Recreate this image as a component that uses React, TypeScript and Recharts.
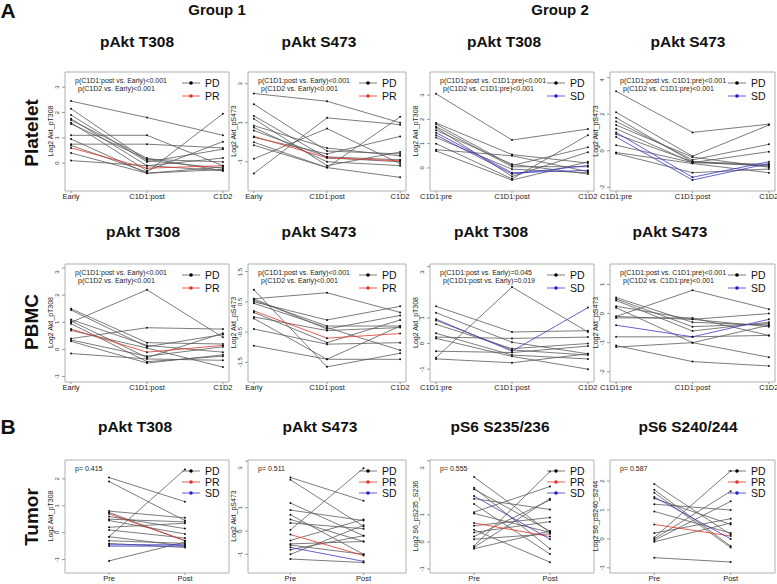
import React from 'react';
import { LineChart, Line, XAxis, YAxis, ReferenceArea } from 'recharts';

// time points
const timesG1 = ['Early', 'C1D1:post', 'C1D2'];
const timesG2 = ['C1D1:pre', 'C1D1:post', 'C1D2'];
const timesTumor = ['Pre', 'Post'];

// Platelet, group 1
const platG1T308 = [
  [2.45, 1.8, 1.1], [2.15, 0.1, -0.2], [1.9, 0.05, 0.55], [1.75, -0.1, 0.2], [1.7, 0.2, -0.3],
  [1.6, -0.3, 0.85], [1.55, 0.15, 0.05], [1.1, 1.1, -0.1], [0.95, -0.4, -0.25], [0.75, 0.75, 0.6],
  [0.7, -0.35, 1.95], [0.4, -0.4, -0.15], [0.1, -0.1, -0.3], [0.6, -0.2, -0.1],
];
const platG1T308Resp = ['PD', 'PD', 'PD', 'PD', 'PD', 'PD', 'PD', 'PD', 'PD', 'PD', 'PD', 'PD', 'PD', 'PR'];

const platG1S473 = [
  [2.5, 2.1, 1.0], [1.95, -0.45, -0.6], [1.35, -0.8, -1.0], [1.2, -1.2, -0.5], [0.85, -0.3, -0.7],
  [0.75, -1.0, -1.2], [0.6, -0.75, -0.9], [0.25, -0.6, 0.3], [0.0, -1.3, 1.3], [-0.15, -1.3, -1.8],
  [-0.85, 0.7, -1.1], [-1.6, 1.25, 0.9], [0.3, -0.8, -0.95],
];
const platG1S473Resp = ['PD', 'PD', 'PD', 'PD', 'PD', 'PD', 'PD', 'PD', 'PD', 'PD', 'PD', 'PD', 'PR'];

// Platelet, group 2
const platG2T308 = [
  [3.05, 1.15, 1.6], [1.85, 0.55, 0.2], [1.8, 0.1, 0.85], [1.7, 0.05, 0.05], [1.65, -0.35, 0.65],
  [1.55, 0.15, -0.25], [1.25, -0.05, -0.2], [1.0, -0.45, 1.35], [0.75, 0.5, -0.15], [0.7, -0.5, 0.25],
  [1.45, -0.2, -0.1], [1.35, -0.25, 0.1],
];
const platG2T308Resp = ['PD', 'PD', 'PD', 'PD', 'PD', 'PD', 'PD', 'PD', 'PD', 'PD', 'SD', 'SD'];

const platG2S473 = [
  [3.25, 1.0, 1.45], [2.1, -0.3, 1.4], [1.8, -0.6, -0.75], [1.6, -0.5, 0.35], [1.4, -0.35, -0.9],
  [1.2, -0.65, -0.05], [0.9, -0.6, -0.85], [0.3, -0.65, -0.8], [-0.1, -0.7, -1.2], [-0.15, -1.2, -1.0],
  [1.0, -1.45, -0.6], [0.75, -1.6, -0.7],
];
const platG2S473Resp = ['PD', 'PD', 'PD', 'PD', 'PD', 'PD', 'PD', 'PD', 'PD', 'PD', 'SD', 'SD'];

// PBMC, group 1
const pbmcG1T308 = [
  [1.5, 0.25, 0.2], [1.45, 0.1, 0.55], [1.1, 0.15, -0.1], [1.05, -0.3, 0.6], [1.0, 2.2, 0.45],
  [0.95, -0.45, -0.25], [0.7, 0.05, -0.65], [0.4, 0.8, 0.75], [0.35, -0.25, 0.1], [0.3, -0.5, -0.2],
  [-0.15, -0.35, -0.4], [0.75, -0.1, 0.15],
];
const pbmcG1T308Resp = ['PD', 'PD', 'PD', 'PD', 'PD', 'PD', 'PD', 'PD', 'PD', 'PD', 'PD', 'PR'];

const pbmcG1S473 = [
  [0.9, -1.65, -1.2], [0.6, 0.8, 0.15], [0.55, -0.3, -0.3], [0.5, -0.1, 0.35], [0.45, -0.35, -1.1],
  [0.6, -0.4, 0.05], [0.15, -0.85, -0.1], [0.0, -0.45, -0.35], [-0.05, -1.4, -1.4], [-0.4, -0.9, -0.85],
  [-0.95, -1.4, -0.3], [0.2, -0.7, -0.55],
];
const pbmcG1S473Resp = ['PD', 'PD', 'PD', 'PD', 'PD', 'PD', 'PD', 'PD', 'PD', 'PD', 'PD', 'PR'];

// PBMC, group 2
const pbmcG2T308 = [
  [1.45, 0.45, 0.5], [1.2, 0.05, -0.4], [0.9, -0.25, -0.45], [0.75, -0.2, 0.0], [0.4, -0.45, -0.6],
  [0.25, 0.2, 0.25], [0.2, -0.5, -1.0], [-0.3, -0.35, -0.1], [-0.55, 2.2, 0.45], [-0.6, -0.75, -0.4],
  [0.95, -0.3, 1.4],
];
const pbmcG2T308Resp = ['PD', 'PD', 'PD', 'PD', 'PD', 'PD', 'PD', 'PD', 'PD', 'PD', 'SD'];

const pbmcG2S473 = [
  [0.55, -0.3, -0.4], [0.5, -0.45, -0.35], [0.45, -0.6, -0.3], [0.25, -0.2, 0.0], [0.2, -1.0, -1.5],
  [-0.1, 0.8, 0.15], [-0.1, -0.2, -0.45], [-0.15, -0.15, -0.75], [-0.8, -0.8, -0.75], [-1.1, -1.65, -1.8],
  [-1.15, -1.0, -0.4], [-0.4, -0.8, -0.2],
];
const pbmcG2S473Resp = ['PD', 'PD', 'PD', 'PD', 'PD', 'PD', 'PD', 'PD', 'PD', 'PD', 'PD', 'SD'];

// Tumor
const tumorT308 = [
  [2.05, 1.15], [1.9, 0.45], [0.8, 0.55], [0.75, -0.3], [0.6, 0.15], [0.5, 0.4], [0.45, -0.05],
  [0.2, 0.35], [0.1, -0.2], [-0.15, 2.35], [-0.15, -0.5], [-0.3, -0.4], [-0.4, -0.55], [-1.05, -0.35],
  [0.7, -0.3], [-0.45, -0.45], [-0.5, -0.5],
];
const tumorT308Resp = ['PD', 'PD', 'PD', 'PD', 'PD', 'PD', 'PD', 'PD', 'PD', 'PD', 'PD', 'PD', 'PD', 'PD', 'PR', 'SD', 'SD'];

const tumorS473 = [
  [2.3, 1.3], [2.2, 0.2], [1.2, -0.2], [0.9, 0.45], [0.7, -1.0], [0.5, -0.45], [0.35, 0.1], [0.05, 2.7],
  [-0.4, 0.5], [-0.55, -0.45], [-0.6, -1.0], [-0.8, -0.2], [-1.0, 0.25], [-1.2, -1.35],
  [-0.15, -1.05], [-0.7, -1.3],
];
const tumorS473Resp = ['PD', 'PD', 'PD', 'PD', 'PD', 'PD', 'PD', 'PD', 'PD', 'PD', 'PD', 'PD', 'PD', 'PD', 'PR', 'SD'];

const tumorS235 = [
  [2.4, 0.35], [2.0, -0.25], [1.95, 0.4], [1.6, 1.2], [1.4, -0.45], [1.1, 2.05], [1.05, 0.35],
  [0.6, 0.9], [0.45, -0.75], [0.35, 0.75], [0.2, 1.55], [0.1, 0.3], [-0.15, 2.6], [-0.2, 1.6],
  [-0.25, 0.4], [0.7, 0.2], [1.7, 0.1],
];
const tumorS235Resp = ['PD', 'PD', 'PD', 'PD', 'PD', 'PD', 'PD', 'PD', 'PD', 'PD', 'PD', 'PD', 'PD', 'PD', 'PD', 'PR', 'SD'];

const tumorS240 = [
  [1.9, 0.15], [1.7, -0.25], [1.6, -0.3], [1.4, 0.5], [1.2, 1.0], [0.95, 0.2], [0.2, 0.7],
  [0.05, 2.35], [0.0, 1.65], [-0.05, 1.3], [-0.1, 0.55], [-0.65, -0.8], [0.5, 0.1], [1.45, 0.0],
];
const tumorS240Resp = ['PD', 'PD', 'PD', 'PD', 'PD', 'PD', 'PD', 'PD', 'PD', 'PD', 'PD', 'PD', 'PR', 'SD'];

const FONT = '"Liberation Sans", Arial, Helvetica, sans-serif';
const RESP_COLOR: Record<string, string> = { PD: '#5a5a5a', PR: '#e2332b', SD: '#3b38c4' };
const LEGEND_COLOR: Record<string, string> = { PD: '#000000', PR: '#e2332b', SD: '#2420c0' };
const YW = 24;
const XH = 14;
const RM = 14; // room on the right for the last x label

const YTick = (props: any) => {
  const { x, y, payload, digits } = props;
  const txt = digits ? Number(payload.value).toFixed(digits) : String(payload.value);
  return (
    <text x={x - 1} y={y} transform={`rotate(-90 ${x - 1} ${y})`} textAnchor="middle"
      fontSize={6} fill="#333" fontFamily={FONT}>{txt}</text>
  );
};

type PanelProps = {
  left: number; top: number; w: number; h: number;
  times: string[]; lines: number[][]; resp: string[];
  yDomain: [number, number]; yTicks: number[]; xDomain: [number, number];
  yLabel: string; pText: string[]; legend: string[]; digits?: number;
  legendRight?: number;
};

const Panel = ({ left, top, w, h, times, lines, resp, yDomain, yTicks, xDomain, yLabel, pText, legend, digits, legendRight = 24 }: PanelProps) => {
  const data = times.map((t, i) => {
    const row: Record<string, number | string> = { x: i + 1, t };
    lines.forEach((l, k) => { row['s' + k] = l[i]; });
    return row;
  });
  const legendGap = legend.length === 3 ? 11 : 13;
  const cw = w + YW + RM;
  const ch = h + XH + 2;
  const lx = YW + w - legendRight - 24;
  return (
    <div style={{ position: 'absolute', left: left - YW, top: top - 1, width: cw, height: ch }}>
      <LineChart width={cw} height={ch} data={data} margin={{ top: 1, right: RM - 1, bottom: 0, left: 0 }}>
        <XAxis type="number" dataKey="x" domain={xDomain} ticks={times.map((_, i) => i + 1)}
          tickFormatter={(v: number) => times[v - 1]} allowDataOverflow axisLine={false} interval={0}
          tickSize={2} tickMargin={1} height={XH} tickLine={{ stroke: '#999' }}
          tick={{ fontSize: 7.5, fill: '#222', fontFamily: FONT }} />
        <YAxis type="number" domain={yDomain} ticks={yTicks} allowDataOverflow axisLine={false}
          tickSize={3} tickMargin={2} width={YW} tickLine={{ stroke: '#999' }}
          tick={<YTick digits={digits} />} />
        <ReferenceArea x1={xDomain[0]} x2={xDomain[1]} y1={yDomain[0]} y2={yDomain[1]}
          fill="none" stroke="#b0b0b0" strokeWidth={1} ifOverflow="visible" />
        {lines.map((_, k) => (
          <Line key={k} type="linear" dataKey={'s' + k} stroke={RESP_COLOR[resp[k]]} strokeWidth={0.8}
            dot={{ r: 1, fill: '#111', stroke: 'none' }} activeDot={false} isAnimationActive={false} />
        ))}
      </LineChart>
      <svg width={cw} height={ch} style={{ position: 'absolute', left: 0, top: 0, pointerEvents: 'none' }}>
        <text x={9} y={(h + 2) / 2} transform={`rotate(-90 9 ${(h + 2) / 2})`} textAnchor="middle"
          dominantBaseline="central" fontSize={7} fontFamily={FONT} fill="#222">{yLabel}</text>
        {pText.map((p, i) => (
          <text key={i} x={YW + 10 + (i === 1 ? 3 : 0)} y={12 + i * 8} fontSize={7} fontFamily={FONT} fill="#222">{p}</text>
        ))}
        {legend.map((g, i) => {
          const cy = 12 + i * legendGap;
          return (
            <g key={g}>
              <line x1={lx + 2} y1={cy} x2={lx + 20} y2={cy} stroke={RESP_COLOR[g]} strokeWidth={0.8} />
              <circle cx={lx + 11} cy={cy} r={1.8} fill={LEGEND_COLOR[g]} />
              <text x={lx + 25} y={cy} dominantBaseline="central" fontSize={10.5} fontFamily={FONT} fill="#111">{g}</text>
            </g>
          );
        })}
      </svg>
    </div>
  );
};

const Title = ({ x, y, text, size = 15.5 }: { x: number; y: number; text: string; size?: number }) => (
  <div style={{ position: 'absolute', left: x, top: y, transform: 'translate(-50%, -50%)', fontSize: size,
    fontWeight: 'bold', fontFamily: FONT, whiteSpace: 'nowrap', color: '#111' }}>{text}</div>
);

const RowLabel = ({ x, y, text }: { x: number; y: number; text: string }) => (
  <div style={{ position: 'absolute', left: x, top: y, transform: 'translate(-50%, -50%) rotate(-90deg)', fontSize: 19,
    fontWeight: 'bold', fontFamily: FONT, whiteSpace: 'nowrap', color: '#111' }}>{text}</div>
);

const colL = [65, 248, 430, 610];
const colW = [163, 157, 163, 164];
const rowT = [72, 264, 460];
const rowH = [118, 117, 112];
const X3: [number, number] = [0.92, 3.08];
const X2: [number, number] = [0.42, 2.58];

const pG1 = ['p(C1D1:post vs. Early)<0.001', 'p(C1D2 vs. Early)<0.001'];
const pG2 = ['p(C1D1:post vs. C1D1:pre)<0.001', 'p(C1D2 vs. C1D1:pre)<0.001'];
const pPbmcG2T308 = ['p(C1D1:post vs. Early)=0.045', 'p(C1D1:post vs. Early)=0.019'];

export default function App() {
  return (
    <div style={{ position: 'absolute', left: 0, top: 0, width: 777, height: 584, background: '#fff', overflow: 'hidden' }}>
      <Title x={8} y={11} text="A" size={21} />
      <Title x={8} y={427} text="B" size={21} />
      <Title x={217} y={9} text="Group 1" size={15} />
      <Title x={560} y={9} text="Group 2" size={15} />

      <Title x={137} y={42} text="pAkt T308" />
      <Title x={319} y={42} text="pAkt S473" />
      <Title x={504} y={42} text="pAkt T308" />
      <Title x={688} y={42} text="pAkt S473" />
      <Title x={143} y={232} text="pAkt T308" />
      <Title x={319} y={232} text="pAkt S473" />
      <Title x={491} y={232} text="pAkt T308" />
      <Title x={670} y={232} text="pAkt S473" />
      <Title x={135} y={427} text="pAkt T308" />
      <Title x={320} y={427} text="pAkt S473" />
      <Title x={500} y={427} text="pS6 S235/236" />
      <Title x={688} y={427} text="pS6 S240/244" />

      <RowLabel x={32} y={133} text="Platelet" />
      <RowLabel x={32} y={322} text="PBMC" />
      <RowLabel x={32} y={517} text="Tumor" />

      <Panel left={colL[0]} top={rowT[0]} w={colW[0]} h={rowH[0]} times={timesG1} lines={platG1T308} resp={platG1T308Resp}
        yDomain={[-1.1, 3.6]} yTicks={[0, 1, 2, 3]} xDomain={X3} yLabel="Log2 Akt_pT308" pText={pG1} legend={['PD', 'PR']} />
      <Panel left={colL[1]} top={rowT[0]} w={colW[1]} h={rowH[0]} times={timesG1} lines={platG1S473} resp={platG1S473Resp}
        yDomain={[-2.5, 3.6]} yTicks={[-2, -1, 0, 1, 2, 3]} xDomain={X3} yLabel="Log2 Akt_pS473" pText={pG1} legend={['PD', 'PR']} />
      <Panel left={colL[2]} top={rowT[0]} w={colW[2]} h={rowH[0]} times={timesG2} lines={platG2T308} resp={platG2T308Resp}
        yDomain={[-0.95, 3.95]} yTicks={[0, 1, 2, 3]} xDomain={X3} yLabel="Log2 Akt_pT308" pText={pG2} legend={['PD', 'SD']} />
      <Panel left={colL[3]} top={rowT[0]} w={colW[3]} h={rowH[0]} times={timesG2} lines={platG2S473} resp={platG2S473Resp}
        yDomain={[-2.2, 4.3]} yTicks={[-2, -1, 0, 1, 2, 3, 4]} xDomain={X3} yLabel="Log2 Akt_pS473" pText={pG2} legend={['PD', 'SD']} />

      <Panel left={colL[0]} top={rowT[1]} w={colW[0]} h={rowH[1]} times={timesG1} lines={pbmcG1T308} resp={pbmcG1T308Resp}
        yDomain={[-1.2, 3.15]} yTicks={[-1, 0, 1, 2, 3]} xDomain={X3} yLabel="Log2 Akt_pT308" pText={pG1} legend={['PD', 'PR']} />
      <Panel left={colL[1]} top={rowT[1]} w={colW[1]} h={rowH[1]} times={timesG1} lines={pbmcG1S473} resp={pbmcG1S473Resp}
        yDomain={[-2.15, 1.75]} yTicks={[-2, -1.5, -1, -0.5, 0, 0.5, 1, 1.5]} digits={1} xDomain={X3} yLabel="Log2 Akt_pS473" pText={pG1} legend={['PD', 'PR']} />
      <Panel left={colL[2]} top={rowT[1]} w={colW[2]} h={rowH[1]} times={timesG2} lines={pbmcG2T308} resp={pbmcG2T308Resp}
        yDomain={[-1.5, 3.1]} yTicks={[-1, 0, 1, 2, 3]} xDomain={X3} yLabel="Log2 Akt_pT308" pText={pPbmcG2T308} legend={['PD', 'SD']} />
      <Panel left={colL[3]} top={rowT[1]} w={colW[3]} h={rowH[1]} times={timesG2} lines={pbmcG2S473} resp={pbmcG2S473Resp}
        yDomain={[-2.35, 1.7]} yTicks={[-2, -1, 0, 1]} xDomain={X3} yLabel="Log2 Akt_pS473" pText={pG2} legend={['PD', 'SD']} />

      <Panel left={colL[0]} top={rowT[2]} w={colW[0]} h={rowH[2]} times={timesTumor} lines={tumorT308} resp={tumorT308Resp}
        yDomain={[-1.5, 2.7]} yTicks={[-1, 0, 1, 2]} xDomain={X2} yLabel="Log2 Akt_pT308" pText={['p= 0.415']} legend={['PD', 'PR', 'SD']} />
      <Panel left={colL[1]} top={rowT[2]} w={colW[1]} h={rowH[2]} times={timesTumor} lines={tumorS473} resp={tumorS473Resp}
        yDomain={[-1.8, 3.05]} yTicks={[-1, 0, 1, 2, 3]} xDomain={X2} yLabel="Log2 Akt_pS473" pText={['p= 0.511']} legend={['PD', 'PR', 'SD']} />
      <Panel left={colL[2]} top={rowT[2]} w={colW[2]} h={rowH[2]} times={timesTumor} lines={tumorS235} resp={tumorS235Resp}
        yDomain={[-1.15, 3.03]} yTicks={[-1, 0, 1, 2, 3]} xDomain={X2} yLabel="Log2 S6_pS235_S236" pText={['p= 0.555']} legend={['PD', 'PR', 'SD']} />
      <Panel left={colL[3]} top={rowT[2]} w={colW[3]} h={rowH[2]} times={timesTumor} lines={tumorS240} resp={tumorS240Resp}
        yDomain={[-1.18, 2.73]} yTicks={[-1, 0, 1, 2]} xDomain={X2} yLabel="Log2 S6_pS240_S244" pText={['p= 0.587']} legend={['PD', 'PR', 'SD']} />
    </div>
  );
}
